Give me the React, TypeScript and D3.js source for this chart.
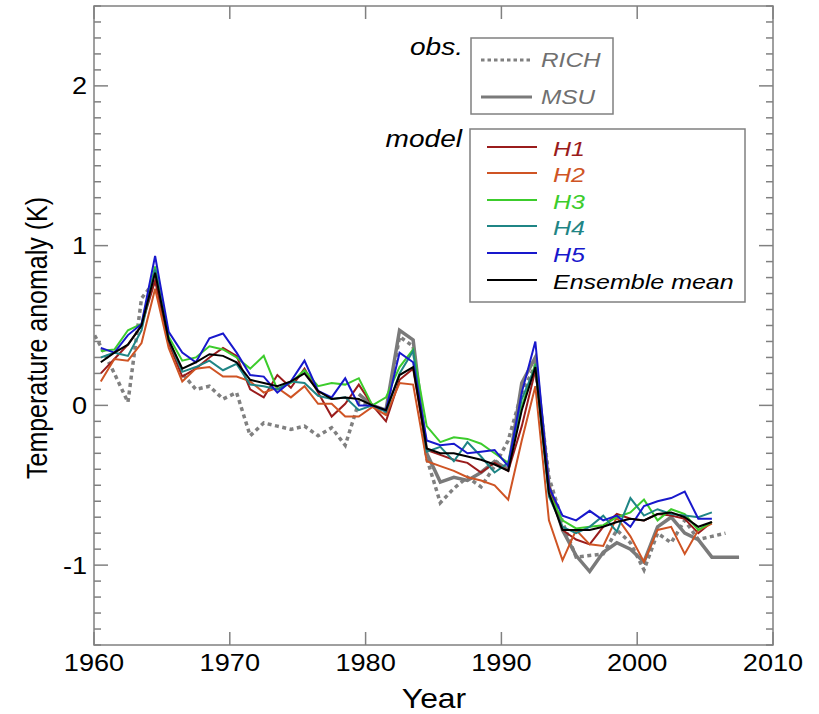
import React from "react";
import * as d3 from "d3";

// ---------- data ----------
const modelYears: number[] = d3.range(1960.5, 2006, 1);
const H1: number[] = [0.20, 0.29, 0.38, 0.50, 0.78, 0.39, 0.18, 0.23, 0.30, 0.36, 0.31, 0.10, 0.05, 0.19, 0.11, 0.23, 0.08, -0.07, 0.01, 0.13, 0.0, -0.10, 0.16, 0.23, -0.28, -0.31, -0.34, -0.36, -0.42, -0.36, -0.41, -0.13, 0.22, -0.50, -0.78, -0.84, -0.87, -0.76, -0.68, -0.71, -0.72, -0.68, -0.69, -0.71, -0.80, -0.73];
const H2: number[] = [0.15, 0.29, 0.28, 0.39, 0.73, 0.36, 0.15, 0.23, 0.24, 0.18, 0.18, 0.15, 0.08, 0.11, 0.05, 0.12, 0.01, 0.01, -0.07, -0.07, -0.01, -0.06, 0.14, 0.13, -0.35, -0.38, -0.41, -0.45, -0.47, -0.50, -0.59, -0.22, 0.12, -0.72, -0.97, -0.78, -0.87, -0.88, -0.70, -0.82, -0.98, -0.78, -0.76, -0.93, -0.78, -0.74];
const H3: number[] = [0.34, 0.35, 0.47, 0.51, 0.87, 0.43, 0.28, 0.30, 0.37, 0.35, 0.30, 0.23, 0.31, 0.10, 0.14, 0.22, 0.12, 0.14, 0.13, 0.17, 0.0, 0.05, 0.24, 0.35, -0.13, -0.23, -0.20, -0.21, -0.24, -0.30, -0.36, -0.01, 0.26, -0.55, -0.72, -0.77, -0.76, -0.75, -0.70, -0.67, -0.59, -0.72, -0.65, -0.68, -0.78, -0.73];
const H4: number[] = [0.30, 0.33, 0.31, 0.47, 0.85, 0.41, 0.21, 0.24, 0.28, 0.22, 0.26, 0.13, 0.12, 0.10, 0.15, 0.14, 0.06, 0.04, 0.05, -0.03, 0.0, -0.04, 0.20, 0.34, -0.29, -0.26, -0.35, -0.23, -0.32, -0.42, -0.36, 0.04, 0.24, -0.57, -0.76, -0.80, -0.76, -0.69, -0.79, -0.58, -0.69, -0.65, -0.68, -0.69, -0.70, -0.67];
const H5: number[] = [0.36, 0.33, 0.44, 0.51, 0.935, 0.46, 0.33, 0.27, 0.42, 0.45, 0.33, 0.19, 0.18, 0.08, 0.15, 0.28, 0.09, 0.05, 0.17, 0.0, 0.0, -0.03, 0.33, 0.27, -0.22, -0.25, -0.24, -0.30, -0.29, -0.28, -0.38, 0.08, 0.40, -0.51, -0.69, -0.72, -0.66, -0.72, -0.69, -0.76, -0.63, -0.60, -0.58, -0.54, -0.71, -0.71];
const ENS: number[] = [0.27, 0.33, 0.38, 0.50, 0.83, 0.41, 0.23, 0.27, 0.32, 0.31, 0.27, 0.16, 0.14, 0.12, 0.15, 0.20, 0.09, 0.04, 0.05, 0.04, 0.0, -0.03, 0.19, 0.24, -0.27, -0.30, -0.30, -0.32, -0.34, -0.37, -0.41, -0.03, 0.24, -0.55, -0.78, -0.78, -0.78, -0.76, -0.73, -0.71, -0.72, -0.68, -0.67, -0.70, -0.76, -0.73];

const richYears: number[] = d3.range(1959.5, 2007, 1);
const RICH: number[] = [0.52, 0.37, 0.20, 0.02, 0.67, 0.78, 0.40, 0.20, 0.10, 0.12, 0.04, 0.08, -0.19, -0.11, -0.13, -0.15, -0.13, -0.19, -0.14, -0.25, 0.02, 0.0, -0.05, 0.43, 0.37, -0.33, -0.61, -0.52, -0.45, -0.51, -0.38, -0.22, 0.08, 0.25, -0.45, -0.73, -0.95, -0.94, -0.93, -0.78, -0.86, -1.03, -0.80, -0.86, -0.72, -0.84, -0.82, -0.80];

const msuYears: number[] = d3.range(1979.5, 2008, 1);
const MSU: number[] = [0.07, 0.0, -0.03, 0.47, 0.41, -0.30, -0.48, -0.45, -0.47, -0.42, -0.35, -0.40, 0.14, 0.30, -0.50, -0.78, -0.94, -1.04, -0.92, -0.86, -0.90, -0.98, -0.76, -0.70, -0.80, -0.84, -0.95, -0.95, -0.95];

const xTickYears: number[] = [1960, 1970, 1980, 1990, 2000, 2010];
const yMajorTicks: number[] = [-1, 0, 1, 2];

const modelSeries = [
  { name: "H1", values: H1, color: "#9a1c1c" },
  { name: "H2", values: H2, color: "#cf5424" },
  { name: "H3", values: H3, color: "#3ccc2c" },
  { name: "H4", values: H4, color: "#1f8585" },
  { name: "H5", values: H5, color: "#1818cc" },
  { name: "Ensemble mean", values: ENS, color: "#000000" },
];

// ---------- layout ----------
const W = 819, H = 714;
const L = 94, R = 773, T = 6, B = 645;
const SX = 1.18;
const SXL = 1.22;
const FONT = "'Liberation Sans', Arial, Helvetica, sans-serif";
const AXC = "#808080";

export default function App() {
  const x = d3.scaleLinear().domain([1960, 2010]).range([L, R]);
  const y = d3.scaleLinear().domain([-1.5, 2.5]).range([B, T]);
  const line = d3.line<[number, number]>().x(d => x(d[0])).y(d => y(d[1]));
  const pts = (yrs: number[], vals: number[]) => yrs.map((yr, i) => [yr, vals[i]] as [number, number]);

  const minorY = d3.range(-15, 26).map(i => i / 10).filter(v => Math.abs(v - Math.round(v)) > 1e-6);

  const legendRows = [147, 173, 200, 226, 253, 280];

  return (
    <svg width={W} height={H} style={{ position: "absolute", left: 0, top: 0, background: "#fff" }} fontFamily={FONT}>
      <defs>
        <clipPath id="plotclip">
          <rect x={L} y={T} width={R - L} height={B - T} />
        </clipPath>
      </defs>
      <rect x={0} y={0} width={W} height={H} fill="#fff" />

      {/* data */}
      <g clipPath="url(#plotclip)" fill="none" strokeLinejoin="miter">
        <path d={line(pts(richYears, RICH)) || ""} stroke="#808080" strokeWidth={3.5} strokeDasharray="4,3.5" />
        <path d={line(pts(msuYears, MSU)) || ""} stroke="#7a7a7a" strokeWidth={3.5} />
        {modelSeries.map(s => (
          <path key={s.name} d={line(pts(modelYears, s.values)) || ""} stroke={s.color} strokeWidth={2} />
        ))}
      </g>

      {/* frame */}
      <rect x={L} y={T} width={R - L} height={B - T} fill="none" stroke={AXC} strokeWidth={1.5} />

      {/* x ticks */}
      {xTickYears.map(v => (
        <g key={"xt" + v}>
          <line x1={x(v)} x2={x(v)} y1={B} y2={B - 13} stroke={AXC} strokeWidth={1.5} />
          <line x1={x(v)} x2={x(v)} y1={T} y2={T + 13} stroke={AXC} strokeWidth={1.5} />
          <text transform={`translate(${x(v)},671) scale(${SX},1)`} textAnchor="middle" fontSize={23} fill="#000">{v}</text>
        </g>
      ))}

      {/* y ticks */}
      {minorY.map(v => (
        <g key={"ym" + v}>
          <line x1={L} x2={L + 7} y1={y(v)} y2={y(v)} stroke={AXC} strokeWidth={1.5} />
          <line x1={R} x2={R - 7} y1={y(v)} y2={y(v)} stroke={AXC} strokeWidth={1.5} />
        </g>
      ))}
      {yMajorTicks.map(v => (
        <g key={"yM" + v}>
          <line x1={L} x2={L + 14} y1={y(v)} y2={y(v)} stroke={AXC} strokeWidth={1.5} />
          <line x1={R} x2={R - 14} y1={y(v)} y2={y(v)} stroke={AXC} strokeWidth={1.5} />
          <text transform={`translate(87,${y(v) + 8.5}) scale(${SX},1)`} textAnchor="end" fontSize={23} fill="#000">{v}</text>
        </g>
      ))}

      {/* axis titles */}
      <text transform={`translate(434,708) scale(${SX},1)`} textAnchor="middle" fontSize={27} fill="#000">Year</text>
      <text transform={`translate(47,338) scale(1.2,1) rotate(-90)`} textAnchor="middle" fontSize={25} fill="#000">Temperature anomaly (K)</text>

      {/* obs legend */}
      <text transform={`translate(463,55) scale(${SXL},1)`} textAnchor="end" fontSize={23} fontStyle="italic" fill="#000">obs.</text>
      <rect x={471} y={38} width={142} height={76} fill="#fff" stroke={AXC} strokeWidth={1.5} />
      <line x1={481} x2={532} y1={60} y2={60} stroke="#808080" strokeWidth={3} strokeDasharray="3.5,3" />
      <text transform={`translate(541,67) scale(${SXL},1)`} fontSize={20} fontStyle="italic" fill="#707070">RICH</text>
      <line x1={481} x2={532} y1={97} y2={97} stroke="#7a7a7a" strokeWidth={3} />
      <text transform={`translate(541,104) scale(${SXL},1)`} fontSize={20} fontStyle="italic" fill="#707070">MSU</text>

      {/* model legend */}
      <text transform={`translate(462,147) scale(${SXL},1)`} textAnchor="end" fontSize={23} fontStyle="italic" fill="#000">model</text>
      <rect x={470} y={129} width={275} height={173} fill="#fff" stroke={AXC} strokeWidth={1.5} />
      {modelSeries.map((s, i) => (
        <g key={"lg" + s.name}>
          <line x1={487} x2={537} y1={legendRows[i]} y2={legendRows[i]} stroke={s.color} strokeWidth={2} />
          <text transform={`translate(553,${legendRows[i] + 9}) scale(${SXL},1)`} fontSize={20.5} fontStyle="italic" fill={s.color}>{s.name}</text>
        </g>
      ))}
    </svg>
  );
}
